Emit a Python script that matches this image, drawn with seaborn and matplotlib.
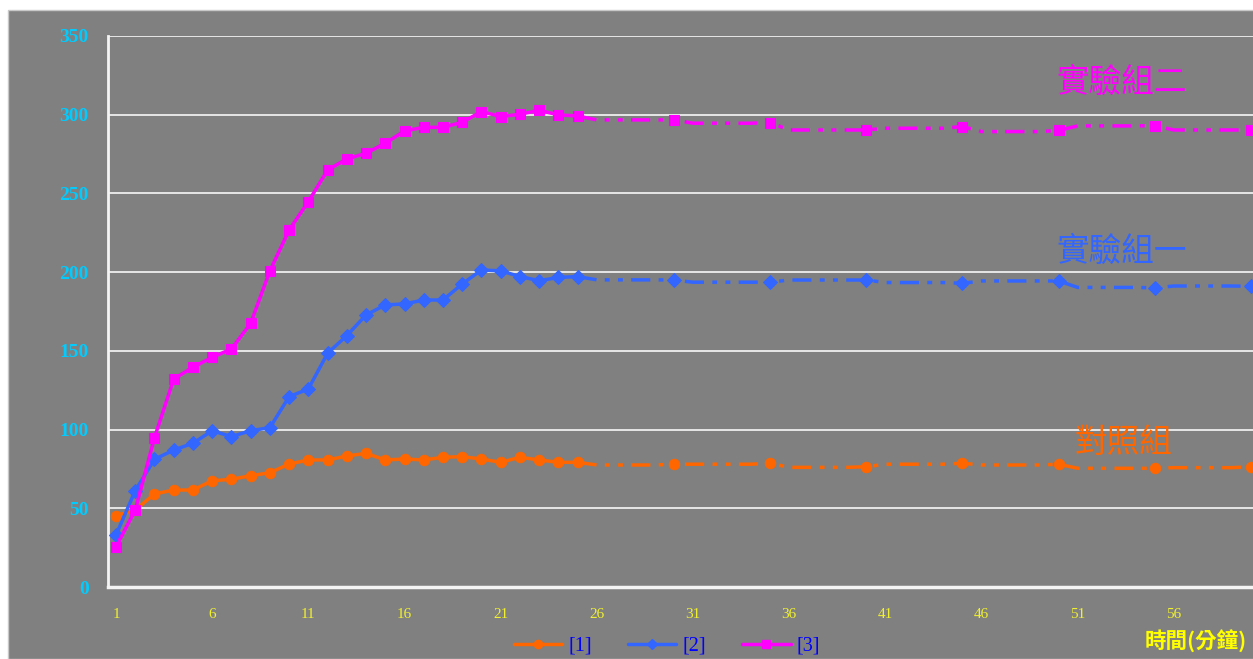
import matplotlib
matplotlib.use("Agg")
import matplotlib.pyplot as plt
from matplotlib.lines import Line2D
from matplotlib.patches import Rectangle
import seaborn as sns
import pandas as pd

# ---------------- data ----------------
minutes = list(range(1, 61))

control = [45.3, 48.9, 59.1, 61.6, 61.6, 67.5, 68.4, 70.7, 72.6, 78.1,
           80.7, 80.7, 83.2, 84.9, 80.7, 81.3, 80.7, 82.4, 82.8, 81.3,
           79.2, 82.4, 80.7, 79.2, 79.2,
           77.5, 77.5, 77.5, 77.5, 78.0,
           78.0, 78.0, 78.0, 78.0, 78.6,
           76.0, 76.0, 76.0, 76.0, 76.4,
           78.0, 78.0, 78.0, 78.0, 78.6,
           77.5, 77.5, 77.5, 77.5, 78.0,
           75.4, 75.4, 75.4, 75.4, 75.4,
           75.8, 75.8, 75.8, 75.8, 76.4]

group1 = [33.0, 61.2, 81.1, 87.0, 91.3, 99.3, 95.5, 99.3, 101.2, 120.9,
          125.8, 148.5, 159.7, 172.8, 179.2, 179.8, 182.3, 182.3, 192.5, 201.4,
          200.8, 197.2, 194.6, 196.6, 197.2,
          195.1, 195.1, 195.1, 195.1, 195.0,
          193.6, 193.6, 193.6, 193.6, 193.6,
          195.0, 195.0, 195.0, 195.0, 195.0,
          193.4, 193.4, 193.4, 193.4, 192.9,
          194.4, 194.4, 194.4, 194.4, 194.4,
          190.3, 190.3, 190.3, 190.3, 190.0,
          191.2, 191.2, 191.2, 191.2, 191.0]

group2 = [25.6, 48.9, 94.9, 132.1, 139.6, 145.9, 151.2, 167.5, 200.8, 226.8,
          244.8, 264.9, 271.9, 275.5, 281.9, 289.7, 292.0, 292.0, 295.2, 302.0,
          298.8, 300.3, 302.8, 299.9, 299.2,
          296.7, 296.7, 296.7, 296.7, 296.7,
          294.6, 294.6, 294.6, 294.6, 295.0,
          290.3, 290.3, 290.3, 290.3, 290.3,
          291.4, 291.4, 291.4, 291.4, 292.5,
          289.3, 289.3, 289.3, 289.3, 290.0,
          292.9, 292.9, 292.9, 292.9, 293.1,
          290.3, 290.3, 290.3, 290.3, 290.3]

series_names = ["對照組", "實驗組一", "實驗組二"]
legend_labels = ["[1]", "[2]", "[3]"]
x_ticks = [1, 6, 11, 16, 21, 26, 31, 36, 41, 46, 51, 56]
y_ticks = [0, 50, 100, 150, 200, 250, 300, 350]
x_label = "時間(分鐘)"
solid_until = 25
marker_step = 5

# ---------------- style ----------------
colors = ["#FF6600", "#3366FF", "#FF00FF"]
markers = ["o", "D", "s"]
msizes = [7.5, 7, 7.5]
label_pos = [(53.35, 91.5), (53.3, 212.8), (53.3, 320)]
BG = "#808080"
CJK = ["Noto Sans CJK TC", "DejaVu Sans"]

sns.set_style("white")
plt.rcParams["font.family"] = ["Liberation Serif", "DejaVu Sans"]

W, H = 1253, 659
fig = plt.figure(figsize=(W / 100, H / 100), dpi=100, facecolor="white")
bg = Rectangle((8 / W, 0), 1, 1 - 10 / H, transform=fig.transFigure,
               facecolor=BG, edgecolor="#C8C8C8", linewidth=1, zorder=-10)
fig.patches.append(bg)

ax = fig.add_axes([108 / W, 72 / H, (W - 108) / W, (587 - 36) / H])
ax.set_facecolor(BG)
ax.set_zorder(1)

df = pd.DataFrame({"minute": minutes, "c": control, "g1": group1, "g2": group2})
cols = ["c", "g1", "g2"]
dash_pat = (0, (5.5, 2.4, 1.4, 2.4, 1.4, 2.4))
LW = 2.5

for i, col in enumerate(cols):
    solid = df[df["minute"] <= solid_until]
    rest = df[df["minute"] >= solid_until].reset_index(drop=True)
    mk_idx = [j for j, m in enumerate(rest["minute"]) if m % marker_step == 0 and m > solid_until]
    sns.lineplot(data=solid, x="minute", y=col, ax=ax, color=colors[i], linewidth=LW,
                 marker=markers[i], markersize=msizes[i], markeredgecolor=colors[i],
                 errorbar=None, zorder=3 + i, clip_on=False)
    sns.lineplot(data=rest, x="minute", y=col, ax=ax, color=colors[i], linewidth=LW,
                 linestyle=dash_pat, marker=markers[i], markersize=msizes[i],
                 markeredgecolor=colors[i], markevery=mk_idx,
                 errorbar=None, zorder=3 + i, clip_on=False)
    ax.text(label_pos[i][0], label_pos[i][1], series_names[i], color=colors[i],
            fontsize=23.5, family=CJK, ha="center", va="center", zorder=10)

ax.set_xlim(0.584, 60.11)
ax.set_ylim(0, 350)
ax.set_xticks(x_ticks)
ax.set_yticks(y_ticks)
ax.set_xlabel("")
ax.set_ylabel("")
ax.yaxis.grid(True, color="#EEEEEE", linewidth=1.3, zorder=1)
ax.xaxis.grid(False)
ax.set_axisbelow(True)
for s in ["top", "right"]:
    ax.spines[s].set_visible(False)
ax.spines["left"].set_color("#F4F4F4")
ax.spines["left"].set_linewidth(2)
ax.spines["bottom"].set_color("#F4F4F4")
ax.spines["bottom"].set_linewidth(2.5)
ax.tick_params(axis="y", length=0, pad=14, labelcolor="#00CCFF", labelsize=14)
ax.tick_params(axis="x", length=0, pad=15, labelcolor="#F0F030", labelsize=11)
for lab in ax.get_yticklabels():
    lab.set_fontweight("bold")

fig.text(1196 / W, (H - 641) / H, x_label, color="#FFFF00", fontsize=15.5,
         fontweight="bold", family=CJK, ha="center", va="center")

handles = [Line2D([], [], color=colors[i], linewidth=LW, marker=markers[i],
                  markersize=msizes[i] - 1.5, markeredgecolor=colors[i]) for i in range(3)]
leg = fig.legend(handles, legend_labels, loc="center", bbox_to_anchor=(667 / W, (H - 646) / H),
                 ncol=3, frameon=False, handlelength=2.4, handletextpad=0.3,
                 columnspacing=1.8, borderpad=0.1,
                 prop={"family": "Liberation Serif", "size": 14.5})
for t in leg.get_texts():
    t.set_color("#0000FF")

fig.savefig("out.png", dpi=100, facecolor=fig.get_facecolor())
